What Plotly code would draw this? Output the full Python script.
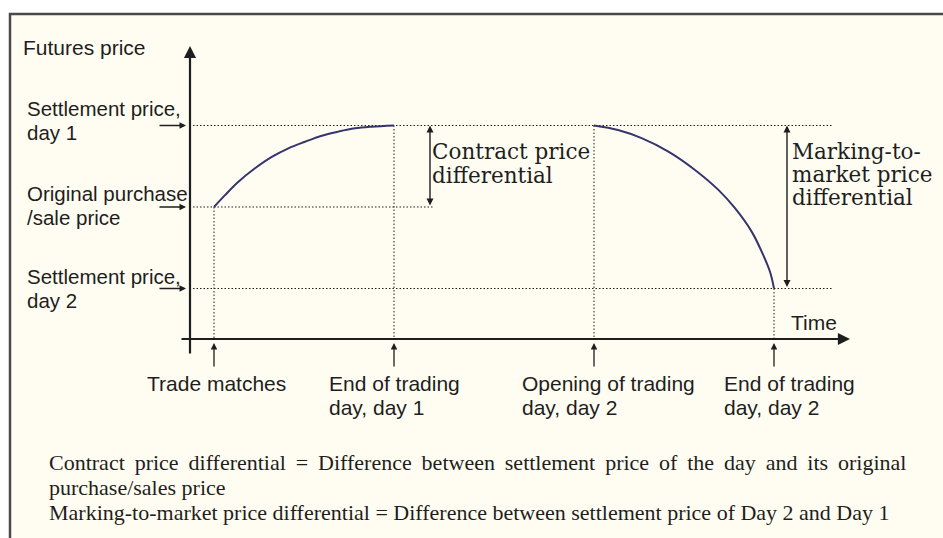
import plotly.graph_objects as go

# ---- conceptual data (time in hours, price levels) ----
event_labels = [["Trade matches"], ["End of trading", "day, day 1"],
                ["Opening of trading", "day, day 2"], ["End of trading", "day, day 2"]]
event_times = [1, 10, 20, 29]

price_labels = [["Settlement price,", "day 1"], ["Original purchase", "/sale price"],
                ["Settlement price,", "day 2"]]
price_levels = [102, 100, 98]

# day 1 price path (trade match -> end of day 1)
day1_t = [1, 1.55, 2.22, 3.05, 3.89, 4.72, 5.55, 6.39, 7.22, 8.05, 8.89, 10]
day1_p = [100, 100.29, 100.62, 100.95, 101.23, 101.44, 101.60, 101.75, 101.85,
          101.93, 101.97, 102]
# day 2 price path (opening -> end of day 2)
day2_t = [20, 21.2, 22.38, 23.72, 25.05, 26.22, 27.05, 27.89, 28.39, 28.8, 29]
day2_p = [102, 101.89, 101.69, 101.36, 100.91, 100.42, 99.97, 99.39, 98.90, 98.41, 98]

footnotes = [
    "Contract price differential = Difference between settlement price of the day and its original",
    "purchase/sales price",
    "Marking-to-market price differential = Difference between settlement price of Day 2 and Day 1",
]

W, H = 943, 538
# axis scales chosen so that the figure fills the canvas
X0, XS = 194, 20.0          # pixel of t=0, pixels per hour
Y0, YS = 207, 40.75         # pixel of price 100, pixels per price unit
XR = [(0 - X0) / XS, (W - X0) / XS]
YR = [100 - (H - Y0) / YS, 100 + Y0 / YS]


def pxx(px):
    return px / W


def pxy(py):
    return 1 - py / H


def t_of(px):
    return (px - X0) / XS


def p_of(py):
    return 100 + (Y0 - py) / YS


p_axis = p_of(339)
INK = "#1e1e1e"
CURVE = "#35356e"
SANS = "Liberation Sans"
SERIF = "DejaVu Serif"
DOT = "1.5px,2px"

fig = go.Figure()

# dotted guide lines
fig.add_trace(go.Scatter(x=[t_of(193), t_of(833)], y=[price_levels[0]] * 2, mode="lines",
                         line=dict(color=INK, width=1, dash=DOT), hoverinfo="skip"))
fig.add_trace(go.Scatter(x=[t_of(193), t_of(433)], y=[price_levels[1]] * 2, mode="lines",
                         line=dict(color=INK, width=1, dash=DOT), hoverinfo="skip"))
fig.add_trace(go.Scatter(x=[t_of(193), t_of(833)], y=[price_levels[2]] * 2, mode="lines",
                         line=dict(color=INK, width=1, dash=DOT), hoverinfo="skip"))
tops = [day1_p[0], day1_p[-1], day2_p[0], day2_p[-1]]
for t, top in zip(event_times, tops):
    fig.add_trace(go.Scatter(x=[t, t], y=[top, p_axis], mode="lines",
                             line=dict(color=INK, width=1, dash=DOT), hoverinfo="skip"))

# price paths
fig.add_trace(go.Scatter(x=day1_t, y=day1_p, mode="lines",
                         line=dict(color=CURVE, width=2, shape="spline", smoothing=1),
                         hoverinfo="skip"))
fig.add_trace(go.Scatter(x=day2_t, y=day2_p, mode="lines",
                         line=dict(color=CURVE, width=2, shape="spline", smoothing=1),
                         hoverinfo="skip"))

ann = []
shapes = []

# frame
shapes.append(dict(type="rect", xref="paper", yref="paper", x0=pxx(10), x1=pxx(W + 5),
                   y0=pxy(H + 5), y1=pxy(14), line=dict(color="#4a4a48", width=2.5),
                   fillcolor="#fffdf1", layer="below"))

# axes with arrows
ann.append(dict(xref="paper", yref="paper", x=pxx(190), y=pxy(46), ax=0, ay=309,
                showarrow=True, arrowhead=2, arrowsize=1.1,
                arrowwidth=2.2, arrowcolor=INK, text=""))
ann.append(dict(xref="paper", yref="paper", x=pxx(850), y=pxy(339), ax=-670, ay=0,
                showarrow=True, arrowhead=2, arrowsize=1.1,
                arrowwidth=2.2, arrowcolor=INK, text=""))


def text(px, py, s, family=SANS, size=21, anchor="left"):
    ann.append(dict(xref="paper", yref="paper", x=pxx(px), y=pxy(py), xanchor=anchor,
                    yanchor="middle", showarrow=False, text=s,
                    font=dict(family=family, size=size, color=INK)))


# price level arrows and labels
label_mids = [109, 193, 276]
for p, lines, mid in zip(price_levels, price_labels, label_mids):
    ann.append(dict(xref="paper", yref="y", x=pxx(186), y=p, ax=-28, ay=0,
                    showarrow=True, arrowhead=2, arrowsize=1, arrowwidth=1.3,
                    arrowcolor=INK, text=""))
    for i, s in enumerate(lines):
        text(25, mid + 24 * i, s, size=20.5)

# event arrows and labels
label_lefts = [145, 327, 520, 722]
for t, lines, left in zip(event_times, event_labels, label_lefts):
    ann.append(dict(xref="x", yref="paper", x=t, y=pxy(343), ax=0, ay=25,
                    showarrow=True, arrowhead=2, arrowsize=1, arrowwidth=1.3,
                    arrowcolor=INK, text=""))
    for i, s in enumerate(lines):
        text(left, 383 + 24 * i, s)

text(21, 48, "Futures price")
text(789, 322, "Time")

# differential arrows
ann.append(dict(xref="x", yref="y", x=t_of(430), y=price_levels[0], ax=t_of(430),
                ay=price_levels[1], axref="x", ayref="y", showarrow=True, arrowhead=2,
                startarrowhead=2, arrowside="end+start", arrowsize=1, arrowwidth=1.4,
                arrowcolor=INK, text=""))
ann.append(dict(xref="x", yref="y", x=t_of(787), y=price_levels[0], ax=t_of(787),
                ay=price_levels[2], axref="x", ayref="y", showarrow=True, arrowhead=2,
                startarrowhead=2, arrowside="end+start", arrowsize=1, arrowwidth=1.4,
                arrowcolor=INK, text=""))

for i, line in enumerate(["Contract price", "differential"]):
    text(430, 151 + 24 * i, line, family=SERIF, size=21.5)
for i, line in enumerate(["Marking-to-", "market price", "differential"]):
    text(790, 151 + 23 * i, line, family=SERIF, size=21.5)

wide_gap = " \u2009"
for i, line in enumerate(footnotes):
    s = line.replace(" ", wide_gap) if i == 0 else line
    text(47, 462 + 25 * i, s, family="Liberation Serif", size=22)

fig.update_layout(
    width=W, height=H, margin=dict(l=0, r=0, t=0, b=0),
    paper_bgcolor="#ffffff", plot_bgcolor="rgba(0,0,0,0)",
    showlegend=False, annotations=ann, shapes=shapes,
    xaxis=dict(range=XR, visible=False, fixedrange=True),
    yaxis=dict(range=YR, visible=False, fixedrange=True),
)
fig.write_html("out.html", config={"displayModeBar": False},
               post_script="document.body.style.margin='0';document.body.style.overflow='hidden';")
